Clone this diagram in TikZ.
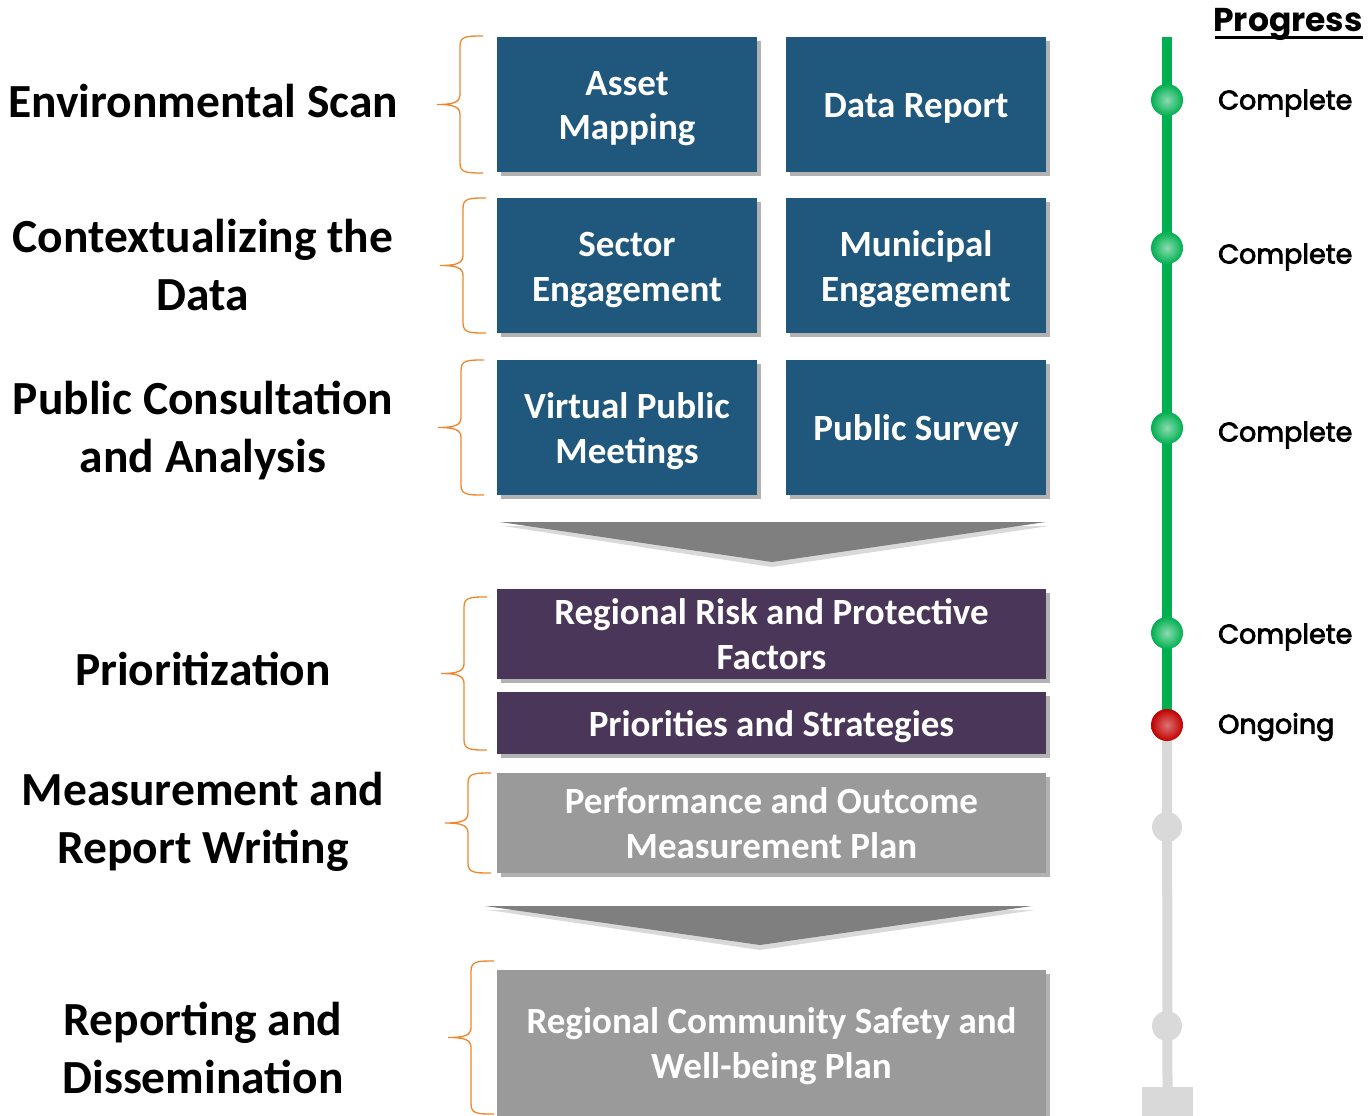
\documentclass[tikz,border=0pt]{standalone}
\usepackage{fontspec}
\setmainfont{Carlito}
\newfontfamily\progfont[FakeBold=3]{Poppins}
\newfontfamily\proghead{Poppins}
\usetikzlibrary{shadows}
\definecolor{boxblue}{HTML}{1F587C}
\definecolor{boxpurple}{HTML}{4A3659}
\definecolor{boxgray}{HTML}{9A9A9A}
\definecolor{arrgray}{HTML}{7F7F7F}
\definecolor{brorange}{HTML}{F0862A}
\definecolor{progreen}{HTML}{00B050}
\definecolor{prored}{HTML}{C00000}
\definecolor{prolight}{HTML}{D9D9D9}
\newcommand\tiletext[1]{\raisebox{-4pt}[\height][\depth]{\begin{tabular}{@{}c@{}}#1\end{tabular}}}
\tikzset{
  tile/.style={inner sep=0pt, text=white,
    font=\fontsize{37}{45}\selectfont\bfseries,
    drop shadow={shadow xshift=4pt, shadow yshift=-4pt, opacity=0.3, fill=black}},
  bluetile/.style={tile, fill=boxblue, minimum width=260, minimum height=135},
  widetile/.style={tile, minimum width=549},
  phase/.style={align=center, font=\fontsize{47.5}{58}\selectfont\bfseries, inner sep=0pt},
  bracestyle/.style={draw=brorange, line width=1.3pt},
  chev/.style={fill=arrgray},
  chevshadow/.style={fill=black, opacity=0.15},
  dotstyle/.style={circle, minimum size=32, inner sep=0pt},
  gdot/.style={dotstyle, inner color=progreen!45!white, outer color=progreen},
  rdot/.style={dotstyle, inner color=prored!55!white, outer color=prored},
  ldot/.style={dotstyle, fill=prolight, minimum size=30},
  prog/.style={anchor=west, inner sep=0pt, font=\progfont\fontsize{27}{32}\selectfont},
}
\newcommand\obrace[3]{%
  \draw[bracestyle] ({#1+46},#2) .. controls ({#1+30},#2) and ({#1+23},#2) .. ({#1+23},{#2+10})
    -- ({#1+23},{(#2+#3)/2-10}) .. controls ({#1+23},{(#2+#3)/2-2}) and ({#1+16},{(#2+#3)/2}) .. ({#1},{(#2+#3)/2})
    .. controls ({#1+16},{(#2+#3)/2}) and ({#1+23},{(#2+#3)/2+2}) .. ({#1+23},{(#2+#3)/2+10})
    -- ({#1+23},{#3-10}) .. controls ({#1+23},#3) and ({#1+30},#3) .. ({#1+46},#3);}
\begin{document}
\begin{tikzpicture}[x=1pt,y=-1pt]
\useasboundingbox (0,0) rectangle (1368,1116);
% phases
\node[phase] (p1) at (203,101) {Environmental Scan};
\node[phase] (p2) at (203,265) {Contextualizing the\\Data};
\node[phase] (p3) at (203,431) {Public Consultation\\and Analysis};
\node[phase] (p4) at (203,669) {Prioritization};
\node[phase] (p5) at (203,822) {Measurement and\\Report Writing};
\node[phase] (p6) at (203,1048) {Reporting and\\Dissemination};
% braces
\obrace{437}{36}{173}
\obrace{440}{198}{333}
\obrace{438}{360}{495}
\obrace{441}{597}{750}
\obrace{445}{773}{873}
\obrace{448}{961}{1114}
% tiles
\node[bluetile] (t1) at (627,104.5) {\tiletext{Asset\\Mapping}};
\node[bluetile] (t2) at (916,104.5) {\tiletext{Data Report}};
\node[bluetile] (t3) at (627,265.5) {\tiletext{Sector\\Engagement}};
\node[bluetile] (t4) at (916,265.5) {\tiletext{Municipal\\Engagement}};
\node[bluetile] (t5) at (627,427.5) {\tiletext{Virtual Public\\Meetings}};
\node[bluetile] (t6) at (916,427.5) {\tiletext{Public Survey}};
% chevron 1
\fill[chevshadow] (503,526) -- (1049,526) -- (772,567) -- cycle;
\fill[chev] (500,522) -- (1046,522) -- (772,562) -- cycle;
\node[widetile, fill=boxpurple, minimum height=89] (t7) at (771.5,633.5) {\tiletext{Regional Risk and Protective\\Factors}};
\node[widetile, fill=boxpurple, minimum height=62] (t8) at (771.5,723) {\tiletext{Priorities and Strategies}};
\node[widetile, fill=boxgray, minimum height=100] (t9) at (771.5,823) {\tiletext{Performance and Outcome\\Measurement Plan}};
% chevron 2
\fill[chevshadow] (488,910) -- (1035,910) -- (760,950) -- cycle;
\fill[chev] (485,906) -- (1032,906) -- (760,945) -- cycle;
\node[widetile, fill=boxgray, minimum height=146] (t10) at (771.5,1043) {\tiletext{Regional Community Safety and\\Well-being Plan}};
% progress column
\coordinate (ptop) at (1167,37);
\coordinate (pmid) at (1167,725);
\node[fill=prolight, minimum width=51, minimum height=30, inner sep=0pt] (pbase) at (1167.5,1102) {};
\draw[progreen, line width=10] (ptop) -- (pmid);
\draw[prolight, line width=10] (pmid) -- (pbase.north);
\node[gdot] (d1) at (1167,100) {};
\node[gdot] (d2) at (1167,248) {};
\node[gdot] (d3) at (1167,428) {};
\node[gdot] (d4) at (1167,633) {};
\node[rdot] (d5) at (1167,725) {};
\node[ldot] (d6) at (1167,827) {};
\node[ldot] (d7) at (1167,1026) {};
\node[prog] (l1) at (1218,103) {Complete};
\node[prog] (l2) at (1218,257) {Complete};
\node[prog] (l3) at (1218,435) {Complete};
\node[prog] (l4) at (1218,637) {Complete};
\node[prog] (l5) at (1218,727) {Ongoing};
\node[anchor=base east, inner sep=0pt, font=\proghead\bfseries\fontsize{33}{40}\selectfont] (hd) at (1363,32) {Progress};
\coordinate (ul1) at (1215,38);
\coordinate (ul2) at (1363,38);
\draw[line width=3] (ul1) -- (ul2);
\end{tikzpicture}
\end{document}
